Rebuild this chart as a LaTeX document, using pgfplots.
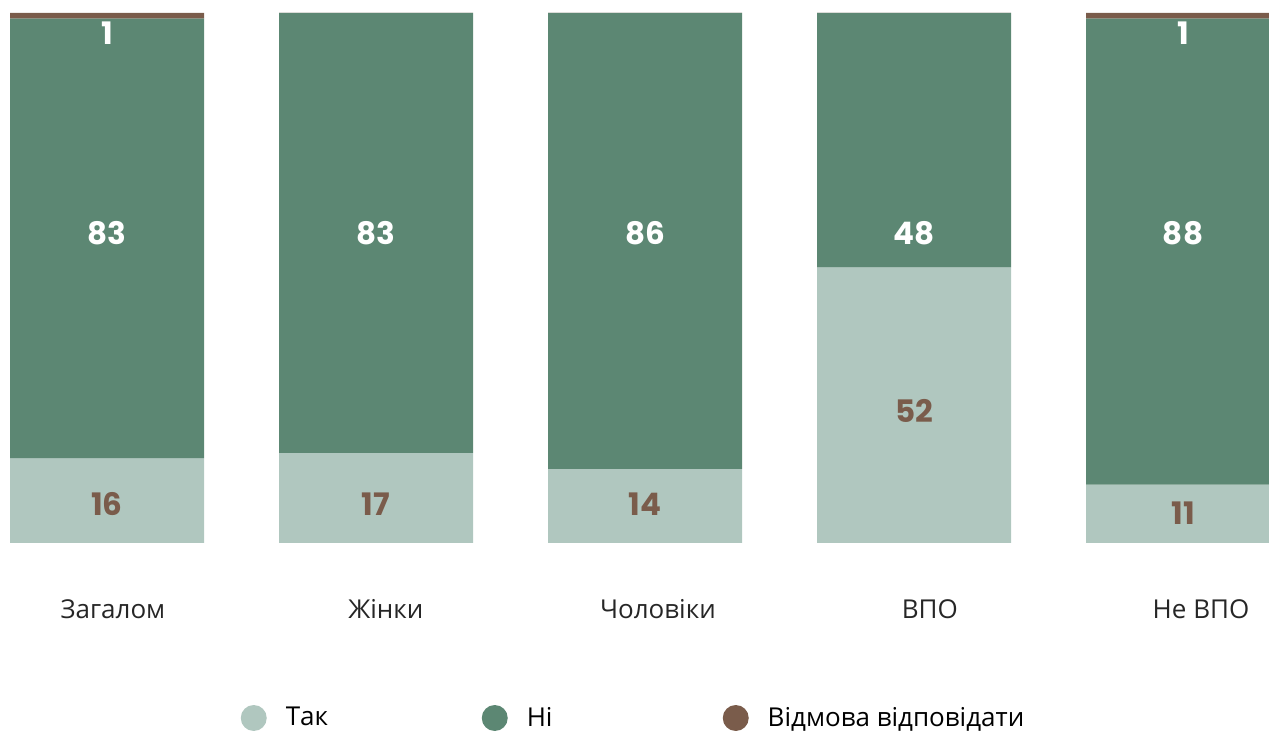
\documentclass[border=0pt]{standalone}
\usepackage{pgfplots}
\pgfplotsset{compat=1.18}
\usepackage{fontspec}
\setmainfont{Open Sans}
\newfontfamily\numfont{Poppins}

\definecolor{tak}{HTML}{B0C7BF}
\definecolor{ni}{HTML}{5C8773}
\definecolor{vidm}{HTML}{7A5C4B}

\pgfplotsset{
    frame/.style={
        scale only axis,
        width=634.5pt, height=271.5pt,
        xmin=-0.3978, xmax=4.3197,
        ymin=0, ymax=102.45,
        hide axis,
        clip=false,
    },
}

\begin{document}
\begin{tikzpicture}
% bars and legend
\begin{axis}[
    frame,
    legend columns=3,
    legend style={draw=none, fill=none, at={(0.5,-0.3223)}, anchor=center,
        font=\fontsize{13}{15}\selectfont},
    legend image code/.code={\fill[#1,draw=none] (0.25em,0) circle (6.5pt);},
]

\addplot[ybar, stack plots=y, bar width=97pt, fill=tak, draw=none]
    coordinates {(0,16) (1,17) (2,14) (3,52) (4,11)};
\addlegendentry{\hspace{7.5pt}\makebox[96pt][l]{Так}}

\addplot[ybar, stack plots=y, bar width=97pt, fill=ni, draw=none]
    coordinates {(0,83) (1,83) (2,86) (3,48) (4,88)};
\addlegendentry{\hspace{7.5pt}\makebox[96pt][l]{Ні}}

\addplot[ybar, stack plots=y, bar width=97pt, fill=vidm, draw=none]
    coordinates {(0,1) (1,0) (2,0) (3,0) (4,1)};
\addlegendentry{\hspace{7.5pt}Відмова відповідати}
\end{axis}

% value labels and category names
\begin{axis}[frame]
\addplot[draw=none, mark=none,
    nodes near coords, point meta=explicit symbolic,
    every node near coord/.style={anchor=center, text=white,
        font=\numfont\bfseries\fontsize{15.5}{16}\selectfont}]
    coordinates {(0,58.5)[83] (1,58.5)[83] (2,58.5)[86] (3,58.5)[48] (4,58.5)[88]
                 (0,96.2)[1] (4,96.2)[1]};

\addplot[draw=none, mark=none,
    nodes near coords, point meta=explicit symbolic,
    every node near coord/.style={anchor=center, text=vidm,
        font=\numfont\bfseries\fontsize{15.5}{16}\selectfont}]
    coordinates {(0,7.4)[16] (1,7.4)[17] (2,7.4)[14] (3,24.9)[52] (4,5.7)[11]};

\addplot[draw=none, mark=none,
    nodes near coords, point meta=explicit symbolic,
    every node near coord/.style={anchor=center, text=black!85,
        font=\fontsize{13}{15}\selectfont}]
    coordinates {(0.022,-12.45)[Загалом] (1.037,-12.45)[Жінки] (2.048,-12.45)[Чоловіки]
                 (3.059,-12.45)[ВПО] (4.067,-12.45)[Не ВПО]};
\end{axis}
\pgfresetboundingbox
\path[use as bounding box] (0,-94pt) rectangle (634.5pt,271.5pt);
\end{tikzpicture}
\end{document}
